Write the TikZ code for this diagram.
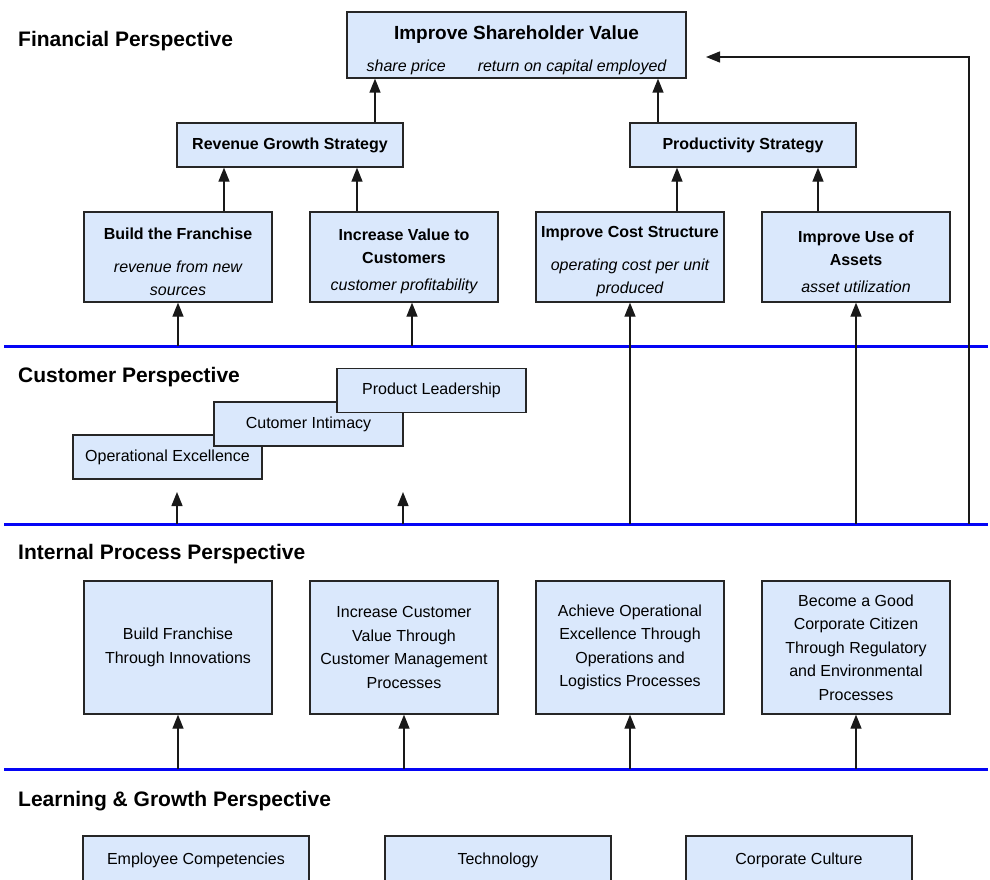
\documentclass[tikz,border=0pt]{standalone}
\usepackage{fontspec}
\setmainfont{Liberation Sans}
\usetikzlibrary{arrows.meta,positioning,calc}
\definecolor{boxblue}{HTML}{DAE8FC}
\definecolor{layerblue}{HTML}{0505F5}
\newcommand{\boxfont}{\fontsize{16}{23}\selectfont}
\newcommand{\headfont}{\fontsize{21}{25}\selectfont\bfseries}
\newcommand{\topgap}{\rule{0pt}{21pt}}
\tikzset{
  perspbox/.style={draw=black!85,fill=boxblue,line width=1.3pt,align=center,
    inner sep=2pt,font=\boxfont},
  goalbox/.style={perspbox,minimum width=188pt,minimum height=90pt},
  stratbox/.style={perspbox,minimum width=226pt,minimum height=44pt,font=\boxfont\bfseries},
  valuebox/.style={perspbox,minimum width=189pt,minimum height=44pt},
  processbox/.style={perspbox,minimum width=188pt,minimum height=133pt,
    font=\fontsize{16}{23.5}\selectfont},
  learnbox/.style={perspbox,minimum width=226pt,minimum height=48pt},
  layerline/.style={draw=layerblue,line width=3pt},
  linkarrow/.style={-{Triangle[length=14pt,width=11pt]},line width=1.3pt,draw=black!90},
  headlabel/.style={anchor=base west,font=\headfont,inner sep=0pt},
  intext/.style={inner sep=0pt,font=\boxfont}
}
\begin{document}
\begin{tikzpicture}[x=1pt,y=-1pt]
  \clip (0,0) rectangle (990,880);
  % perspective separators
  \coordinate (l1) at (4,346);
  \coordinate (l2) at (4,524);
  \coordinate (l3) at (4,769);
  \foreach \l in {l1,l2,l3}
    \draw[layerline] (\l) -- (988,0 |- \l);
  % headings
  \node[headlabel] (hfin) at (18,47) {Financial Perspective};
  \node[headlabel] (hcus) at (18,382) {Customer Perspective};
  \node[headlabel] (hint) at (18,559) {Internal Process Perspective};
  \node[headlabel] (hlrn) at (18,806) {Learning \& Growth Perspective};
  % financial
  \node[perspbox,minimum width=339pt,minimum height=66pt] (sv) at (516.5,45) {};
  \node[intext,font=\fontsize{19}{23}\selectfont\bfseries] (svtitle) at (sv.center |- 0,35)
    {Improve Shareholder Value};
  \node[intext,font=\boxfont\itshape] (svmeasure) at (sv.center |- 0,67)
    {share price\hspace{2em}return on capital employed};
  \node[stratbox] (rev) at (290,145) {Revenue Growth Strategy};
  \node[stratbox] (prod) at (743,145) {Productivity Strategy};
  \node[goalbox] (bf) at (178,257)
    {\topgap{\bfseries Build the Franchise}\\[10pt]{\itshape revenue from new}\\{\itshape sources}};
  \node[goalbox] (iv) at (404,257)
    {\topgap{\bfseries Increase Value to}\\{\bfseries Customers}\\[4pt]{\itshape customer profitability}};
  \node[goalbox] (ic) at (630,257)
    {\topgap{\bfseries Improve Cost Structure}\\[10pt]{\itshape operating cost per unit}\\{\itshape produced}};
  \node[goalbox] (iu) at (856,257)
    {\topgap{\bfseries Improve Use of}\\{\bfseries Assets}\\[4pt]{\itshape asset utilization}};
  \draw[linkarrow] (375,0 |- rev.north) -- (375,0 |- sv.south);
  \draw[linkarrow] (658,0 |- prod.north) -- (658,0 |- sv.south);
  \draw[linkarrow] (224,0 |- bf.north) -- (224,0 |- rev.south);
  \draw[linkarrow] (357,0 |- iv.north) -- (357,0 |- rev.south);
  \draw[linkarrow] (677,0 |- ic.north) -- (677,0 |- prod.south);
  \draw[linkarrow] (818,0 |- iu.north) -- (818,0 |- prod.south);
  % customer
  \node[valuebox] (oe) at (167.5,457) {Operational Excellence};
  \node[valuebox] (ci) at (308.5,424) {Cutomer Intimacy};
  \node[valuebox] (pl) at (431.5,390.5) {Product Leadership};
  \draw[linkarrow] (178,0 |- l1) -- (178,0 |- bf.south);
  \draw[linkarrow] (412,0 |- l1) -- (412,0 |- iv.south);
  \coordinate (oetip) at (177,492);
  \coordinate (citip) at (403,492);
  \draw[linkarrow] (oetip |- l2) -- (oetip);
  \draw[linkarrow] (citip |- l2) -- (citip);
  \draw[linkarrow] (630,0 |- l2) -- (630,0 |- ic.south);
  \draw[linkarrow] (856,0 |- l2) -- (856,0 |- iu.south);
  \coordinate (fb) at (706,57);
  \draw[linkarrow] (969,0 |- l2) |- (fb);
  % internal process
  \node[processbox] (p1) at (178,647.5) {Build Franchise\\Through Innovations};
  \node[processbox] (p2) at (404,647.5)
    {Increase Customer\\Value Through\\Customer Management\\Processes};
  \node[processbox] (p3) at (630,647.5)
    {Achieve Operational\\Excellence Through\\Operations and\\Logistics Processes};
  \node[processbox] (p4) at (856,647.5)
    {Become a Good\\Corporate Citizen\\Through Regulatory\\and Environmental\\Processes};
  \foreach \p in {p1,p2,p3,p4}
    \draw[linkarrow] (\p.south |- l3) -- (\p.south);
  % learning & growth
  \node[learnbox] (lc) at (196,860) {Employee Competencies};
  \node[learnbox] (lt) at (498,860) {Technology};
  \node[learnbox] (lu) at (799,860) {Corporate Culture};
\end{tikzpicture}
\end{document}
